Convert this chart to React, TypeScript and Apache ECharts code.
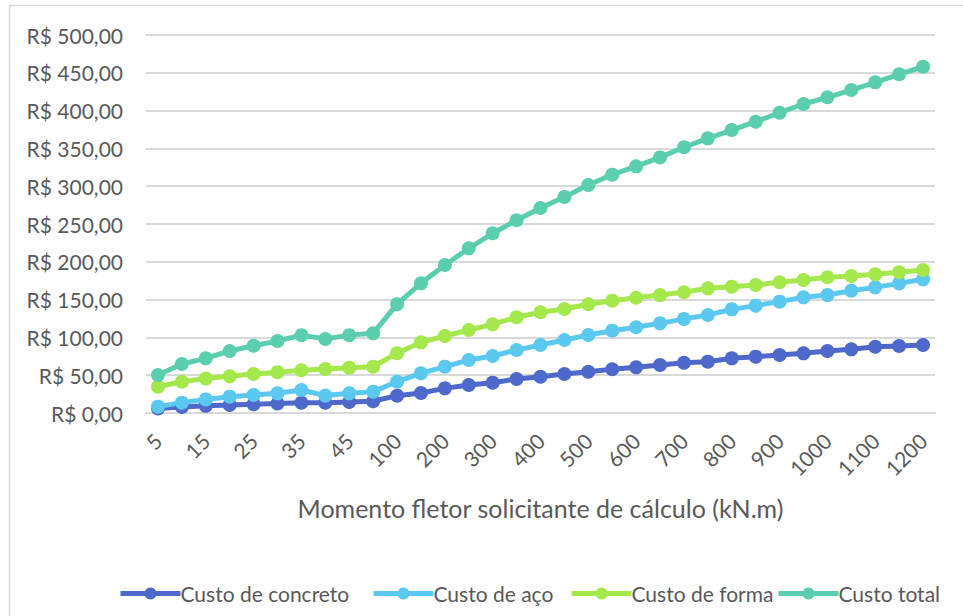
import React, { useEffect, useRef } from "react";
import * as echarts from "echarts";

const categories = ["5", "10", "15", "20", "25", "30", "35", "40", "45", "50", "100", "150", "200", "250", "300", "350", "400", "450", "500", "550", "600", "650", "700", "750", "800", "850", "900", "950", "1000", "1050", "1100", "1150", "1200"];

const custoConcreto = [6, 8, 9.5, 10.5, 11.5, 12.5, 13.5, 13.5, 14.5, 15.5, 22.9, 26.5, 32.6, 37, 40.1, 45, 48, 51.6, 54.6, 57.8, 60.4, 63.5, 66.5, 67.9, 72.3, 74.5, 76.7, 78.9, 82, 84.2, 87.7, 88.6, 89.9];
const custoAco = [8.4, 13.7, 18, 21.6, 23.8, 26, 30.4, 23, 26, 28.2, 41.4, 52.5, 61.3, 70.1, 75.4, 83.3, 90, 96.6, 103.2, 108.9, 113.4, 118.6, 124.5, 129.6, 137.1, 142, 147.3, 153, 156, 161.8, 166.2, 171.5, 176.8];
const custoForma = [34.8, 41.4, 45.5, 48.5, 51.6, 54, 56.5, 58.2, 60, 61.3, 79, 93.5, 101.9, 109.8, 117.3, 126.6, 133.2, 137.6, 143.8, 148.6, 152.5, 156, 159.7, 164.9, 167.1, 169.3, 172.9, 176, 179.5, 181.2, 183.4, 186.1, 189.2];
const custoTotal = [50.3, 64.8, 72.3, 82, 89, 95.2, 103, 97.9, 103, 105.4, 144, 171.5, 195.8, 217.8, 237.7, 254.9, 271.2, 285.8, 301.6, 315.3, 326.3, 338.1, 351.5, 363.3, 374.3, 385.3, 397.2, 408.7, 417.6, 427.2, 437.4, 448, 458];

const seriesNames = ["Custo de concreto", "Custo de aço", "Custo de forma", "Custo total"];
const seriesColors = ["#4f68cb", "#5bc8f0", "#a5e84c", "#5bceb0"];
const legendLefts = [118, 371, 569, 776];

const FONT = "Lato, 'Open Sans', sans-serif";
const TEXT_COLOR = "#595959";

export default function App() {
  const ref = useRef<HTMLDivElement>(null);
  useEffect(() => {
    document.body.style.margin = "0";
    const chart = echarts.init(ref.current!, null, { renderer: "svg" });
    const data = [custoConcreto, custoAco, custoForma, custoTotal];
    chart.setOption({
      animation: false,
      backgroundColor: "#ffffff",
      graphic: [
        {
          type: "rect",
          shape: { x: 9.5, y: 5.5, width: 1200, height: 1200 },
          style: { fill: "none", stroke: "#d9d9d9", lineWidth: 1.5 },
          silent: true,
          z: -10,
        },
      ],
      grid: { left: 146, right: 28, top: 35, bottom: 203, containLabel: false },
      legend: seriesNames.map((name, i) => ({
        left: legendLefts[i],
        top: 583,
        padding: 0,
        itemWidth: 60,
        itemHeight: 15,
        lineStyle: { width: 5 },
        textStyle: { fontFamily: FONT, fontSize: 21, color: TEXT_COLOR, padding: [0, 0, 0, -5] },
        data: [name],
      })),
      xAxis: {
        type: "category",
        data: categories,
        boundaryGap: true,
        name: "Momento fletor solicitante de cálculo (kN.m)",
        nameLocation: "middle",
        nameGap: 82,
        nameTextStyle: { fontFamily: FONT, fontSize: 25, color: TEXT_COLOR },
        axisLine: { lineStyle: { color: "#d9d9d9", width: 2 } },
        axisTick: { show: false },
        axisLabel: {
          interval: 1,
          rotate: 45,
          margin: 24,
          fontFamily: FONT,
          fontSize: 21,
          color: TEXT_COLOR,
        },
      },
      yAxis: {
        type: "value",
        min: 0,
        max: 500,
        interval: 50,
        axisLine: { show: false },
        axisTick: { show: false },
        splitLine: { lineStyle: { color: "#d9d9d9", width: 2 } },
        axisLabel: {
          margin: 23,
          fontFamily: FONT,
          fontSize: 21,
          color: TEXT_COLOR,
          formatter: (v: number) => "R$ " + v.toFixed(2).replace(".", ","),
        },
      },
      series: seriesNames.map((name, i) => ({
        name,
        type: "line",
        data: data[i],
        symbol: "circle",
        symbolSize: 14,
        color: seriesColors[i],
        lineStyle: { width: 5, color: seriesColors[i] },
        itemStyle: { color: seriesColors[i] },
      })),
    });
    return () => chart.dispose();
  }, []);
  return <div ref={ref} style={{ width: 963, height: 616 }} />;
}
